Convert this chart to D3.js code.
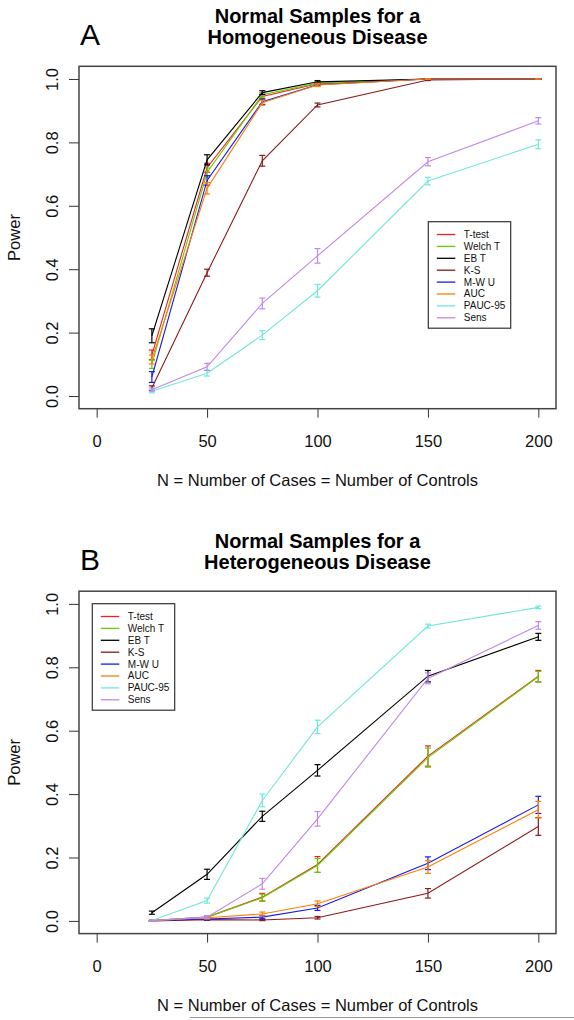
<!DOCTYPE html>
<html><head><meta charset="utf-8">
<script src="https://cdn.jsdelivr.net/npm/d3@7"></script>
<style>body{margin:0;background:#fff}svg{display:block;font-family:"Liberation Sans",Arial,sans-serif}</style>
</head><body><svg id="c" width="574" height="1020"></svg>
<script>
const Ns = [25, 50, 75, 100, 150, 200];
const xTicks = [0, 50, 100, 150, 200];
const yTicks = [0, 0.2, 0.4, 0.6, 0.8, 1.0];
const methods = ["T-test", "Welch T", "EB T", "K-S", "M-W U", "AUC", "PAUC-95", "Sens"];
const colors = ["#ee2222", "#66cd00", "#000000", "#8b1a1a", "#1a1aee", "#ff7f00", "#70e8d8", "#bf88ee"];

// Panel A: homogeneous disease (power, half-width of error bar)
const A_ttest = [0.13, 0.72, 0.945, 0.985, 1.0, 1.0];
const A_welch = [0.10, 0.705, 0.95, 0.987, 1.0, 1.0];
const A_ebt   = [0.19, 0.745, 0.957, 0.991, 1.0, 1.0];
const A_ks    = [0.025, 0.389, 0.742, 0.918, 0.997, 1.0];
const A_mwu   = [0.06, 0.68, 0.928, 0.982, 1.0, 1.0];
const A_auc   = [0.115, 0.655, 0.925, 0.981, 1.0, 1.0];
const A_pauc  = [0.015, 0.072, 0.192, 0.332, 0.678, 0.794];
const A_sens  = [0.02, 0.092, 0.292, 0.442, 0.739, 0.868];
const A_err = [
  [0.015, 0.014, 0.007, 0.004, 0.001, 0],
  [0.013, 0.014, 0.007, 0.004, 0.001, 0],
  [0.022, 0.016, 0.006, 0.004, 0.001, 0],
  [0.007, 0.011, 0.017, 0.006, 0.002, 0],
  [0.017, 0.015, 0.008, 0.004, 0.001, 0],
  [0.014, 0.018, 0.008, 0.005, 0.001, 0],
  [0.005, 0.009, 0.014, 0.020, 0.012, 0.014],
  [0.005, 0.011, 0.017, 0.023, 0.013, 0.010]
];

// Panel B: heterogeneous disease
const B_ttest = [0.001, 0.012, 0.075, 0.178, 0.52, 0.772];
const B_welch = [0.001, 0.012, 0.073, 0.175, 0.515, 0.77];
const B_ebt   = [0.026, 0.147, 0.33, 0.475, 0.772, 0.896];
const B_ks    = [0.0, 0.004, 0.003, 0.010, 0.087, 0.298];
const B_mwu   = [0.001, 0.006, 0.012, 0.041, 0.182, 0.366];
const B_auc   = [0.001, 0.010, 0.022, 0.054, 0.170, 0.351];
const B_pauc  = [0.001, 0.064, 0.38, 0.612, 0.93, 0.989];
const B_sens  = [0.001, 0.012, 0.117, 0.322, 0.765, 0.932];
const B_err = [
  [0.001, 0.004, 0.012, 0.025, 0.032, 0.018],
  [0.001, 0.004, 0.011, 0.022, 0.030, 0.017],
  [0.005, 0.016, 0.016, 0.018, 0.018, 0.011],
  [0.0, 0.002, 0.002, 0.004, 0.015, 0.028],
  [0.001, 0.003, 0.005, 0.008, 0.020, 0.027],
  [0.001, 0.004, 0.006, 0.009, 0.020, 0.026],
  [0.001, 0.008, 0.020, 0.021, 0.006, 0.004],
  [0.001, 0.004, 0.017, 0.023, 0.017, 0.012]
];

const svg = d3.select("#c");
svg.append("rect").attr("width", 574).attr("height", 1020).attr("fill", "#fff");

const x = d3.scaleLinear().domain([-8, 208]).range([79, 556]);

function panel(opts) {
  const {top, letter, title1, title2, series, errs, legend} = opts;
  const y = d3.scaleLinear().domain([-0.04, 1.04]).range([top + 342.4, top]);
  const g = svg.append("g");
  const bottom = top + 342.4;

  // titles
  g.append("text").attr("x", 317.5).attr("y", top - 50).attr("dy", "0.35em")
    .attr("text-anchor", "middle").attr("font-weight", "bold").attr("font-size", 20).text(title1);
  g.append("text").attr("x", 317.5).attr("y", top - 29).attr("dy", "0.35em")
    .attr("text-anchor", "middle").attr("font-weight", "bold").attr("font-size", 20).text(title2);
  g.append("text").attr("x", 90).attr("y", top - 32).attr("dy", "0.36em")
    .attr("text-anchor", "middle").attr("font-size", 30).text(letter);

  // x axis
  const xa = g.append("g").attr("transform", `translate(0,${bottom})`)
    .call(d3.axisBottom(x).tickValues(xTicks).tickSize(9).tickFormat(d3.format("d")));
  xa.select(".domain").remove();
  xa.selectAll("line").attr("stroke", "#333");
  xa.selectAll("text").attr("y", 33).attr("dy", "0.35em").attr("font-size", 16.5)
    .attr("font-family", "Liberation Sans, Arial, sans-serif").attr("fill", "#111");
  g.append("text").attr("x", 317.5).attr("y", bottom + 71.5).attr("dy", "0.35em")
    .attr("text-anchor", "middle").attr("font-size", 16.5).attr("fill", "#111")
    .text("N = Number of Cases = Number of Controls");

  // y axis
  const ya = g.append("g").attr("transform", `translate(79,0)`)
    .call(d3.axisLeft(y).tickValues(yTicks).tickSize(10).tickFormat(d3.format(".1f")));
  ya.select(".domain").remove();
  ya.selectAll("line").attr("stroke", "#333");
  ya.selectAll("text").attr("x", 0).attr("y", 0).attr("dy", "0.35em")
    .attr("transform", "translate(-27,0) rotate(-90)")
    .attr("text-anchor", "middle").attr("font-size", 16.5)
    .attr("font-family", "Liberation Sans, Arial, sans-serif").attr("fill", "#111");
  g.append("text").attr("transform", `translate(14,${(top + bottom) / 2}) rotate(-90)`)
    .attr("dy", "0.35em").attr("text-anchor", "middle").attr("font-size", 16.5).attr("fill", "#111")
    .text("Power");

  // series
  const line = d3.line().x((d, i) => x(Ns[i])).y(d => y(d));
  series.forEach((vals, k) => {
    const sg = g.append("g");
    sg.append("path").attr("d", line(vals)).attr("fill", "none")
      .attr("stroke", colors[k]).attr("stroke-width", 1.1);
    vals.forEach((v, i) => {
      const e = errs[k][i];
      const cx = x(Ns[i]);
      const y1 = y(v - e), y2 = y(v + e);
      sg.append("line").attr("x1", cx).attr("x2", cx).attr("y1", y1).attr("y2", y2)
        .attr("stroke", colors[k]).attr("stroke-width", 1.2);
      [y1, y2].forEach(yy => sg.append("line").attr("x1", cx - 3).attr("x2", cx + 3)
        .attr("y1", yy).attr("y2", yy).attr("stroke", colors[k]).attr("stroke-width", 1.2));
    });
  });

  // box
  g.append("rect").attr("x", 79).attr("y", top).attr("width", 477).attr("height", 342.4)
    .attr("fill", "none").attr("stroke", "#444").attr("stroke-width", 1.5);

  // legend
  const lg = g.append("g").attr("transform", `translate(${legend.x},${legend.y})`);
  lg.append("rect").attr("width", legend.w).attr("height", 106.5).attr("fill", "#fff")
    .attr("stroke", "#333").attr("stroke-width", 1.2);
  methods.forEach((m, k) => {
    const yy = 12.8 + k * 11.9;
    lg.append("line").attr("x1", 8.5).attr("x2", 27).attr("y1", yy).attr("y2", yy)
      .attr("stroke", colors[k]).attr("stroke-width", 1.3);
    lg.append("text").attr("x", 35.5).attr("y", yy).attr("dy", "0.35em")
      .attr("font-size", 10).attr("fill", "#111").text(m);
  });
}

panel({top: 66.3, letter: "A", title1: "Normal Samples for a", title2: "Homogeneous Disease",
  series: [A_ttest, A_welch, A_ebt, A_ks, A_mwu, A_auc, A_pauc, A_sens], errs: A_err,
  legend: {x: 428.3, y: 221.7, w: 82.4}});
panel({top: 591.2, letter: "B", title1: "Normal Samples for a", title2: "Heterogeneous Disease",
  series: [B_ttest, B_welch, B_ebt, B_ks, B_mwu, B_auc, B_pauc, B_sens], errs: B_err,
  legend: {x: 92.3, y: 603.7, w: 82.4}});

// thin rule at the very bottom of the page
svg.append("line").attr("x1", 190).attr("x2", 574).attr("y1", 1017.5).attr("y2", 1017.5)
  .attr("stroke", "#999").attr("stroke-width", 1);
</script></body></html>
